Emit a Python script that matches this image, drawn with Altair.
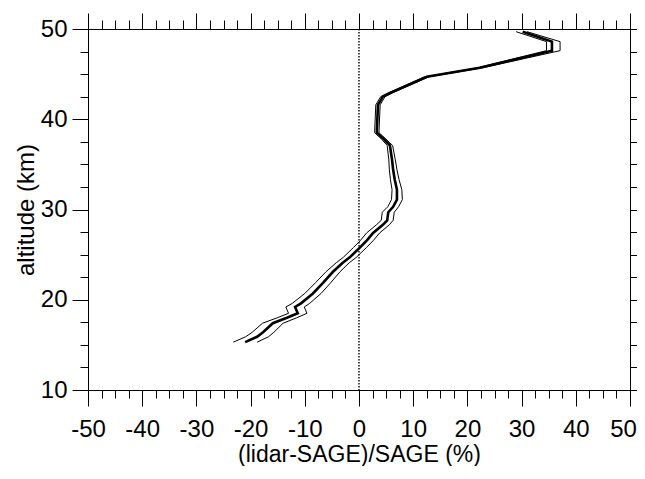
import altair as alt
import pandas as pd

# altitude (km) of profile vertices
alt_km = [49.7, 48.6, 47.6, 45.7, 44.7, 42.9, 42.5, 41.6, 38.8, 38.5, 37.9, 37.1,
          35.5, 34.4, 33.3, 32.2, 31.1, 30.3, 29.7, 28.8, 28.3, 27.4, 26.6, 25.8,
          24.7, 24.1, 23.1, 21.9, 20.7, 19.6, 19.2, 18.5, 18.0, 17.4, 16.4, 15.9, 15.3]
# mean relative difference (%)
mean_diff = [30.2, 35.6, 35.6, 22.3, 12.5, 5.7, 4.4, 3.5, 3.3, 3.3, 4.4, 5.7,
             6.1, 6.3, 6.6, 7.0, 7.0, 6.3, 5.4, 5.2, 4.4, 2.6, 1.5, 0.2,
             -1.7, -3.0, -4.8, -6.6, -8.5, -10.7, -11.8, -11.3, -13.3, -15.9, -17.7, -18.8, -21.0]
# lower envelope (%)
low_diff = [29.0, 34.6, 34.6, 21.8, 12.1, 5.3, 4.0, 3.1, 2.9, 2.9, 4.0, 5.2,
            5.5, 5.6, 5.8, 6.1, 6.0, 5.3, 4.3, 4.1, 3.2, 1.4, 0.3, -1.0,
            -2.9, -4.2, -6.1, -8.0, -10.0, -12.3, -13.5, -13.0, -15.1, -17.8, -19.7, -20.9, -23.2]
# upper envelope (%)
high_diff = [31.0, 37.1, 37.1, 22.8, 12.9, 6.1, 4.8, 3.9, 3.7, 3.7, 4.8, 6.2,
             6.7, 7.0, 7.4, 7.9, 8.0, 7.3, 6.5, 6.3, 5.6, 3.8, 2.7, 1.4,
             -0.5, -1.8, -3.5, -5.2, -7.0, -9.1, -10.1, -9.6, -11.5, -14.0, -15.7, -16.7, -18.8]

x_major = [-50, -40, -30, -20, -10, 0, 10, 20, 30, 40, 50]
y_major = [10, 20, 30, 40, 50]
x_minor = [v * 2.5 for v in range(-20, 21) if v % 4 != 0]
y_minor = [10 + v * 2.5 for v in range(0, 17) if v % 4 != 0]

rows = []
for name, vals in (("mean", mean_diff), ("low", low_diff), ("high", high_diff)):
    for i, (a, v) in enumerate(zip(alt_km, vals)):
        rows.append({"series": name, "alt": a, "diff": v, "i": i})
df = pd.DataFrame(rows)

W, H = 542, 361
xs = alt.Scale(domain=[-50, 50], nice=False, zero=False)
ys = alt.Scale(domain=[10, 50], nice=False, zero=False)

ax_bottom = alt.Axis(orient="bottom", values=x_major, tickSize=16, labelPadding=11,
                     labelFlush=False, labelOverlap=False, grid=False,
                     labelExpr="toString(datum.value)",
                     labelOffset={"condition": {"test": "datum.value >= 50", "value": -7},
                                  "value": 0},
                     title="(lidar-SAGE)/SAGE (%)", titleX=W / 2, titleY=64,
                     titleBaseline="middle", titleFontSize=23)
ax_left = alt.Axis(orient="left", values=y_major, tickSize=16, labelPadding=5,
                   labelFlush=False, labelOverlap=False, grid=False,
                   title="altitude (km)", titleX=-62, titleY=H / 2, titleAngle=270,
                   titleBaseline="middle")
ax_bottom_minor = alt.Axis(orient="bottom", values=x_minor, tickSize=8, labels=False,
                           domain=False, grid=False, title=None)
ax_left_minor = alt.Axis(orient="left", values=y_minor, tickSize=8, labels=False,
                         domain=False, grid=False, title=None)
ax_top = alt.Axis(orient="top", values=x_major, tickSize=16, labels=False,
                  grid=False, title=None)
ax_right = alt.Axis(orient="right", values=y_major, tickSize=15, labels=False,
                    grid=False, title=None)
ax_top_minor = alt.Axis(orient="top", values=x_minor, tickSize=9, labels=False,
                        domain=False, grid=False, title=None)
ax_right_minor = alt.Axis(orient="right", values=y_minor, tickSize=11, labels=False,
                          domain=False, grid=False, title=None)

base = alt.Chart(df)

thin = base.transform_filter(alt.datum.series != "mean").mark_line(
    color="black", strokeWidth=1).encode(
    x=alt.X("diff:Q", scale=xs, axis=ax_bottom),
    y=alt.Y("alt:Q", scale=ys, axis=ax_left),
    detail="series:N",
    order="i:Q",
)
thick = base.transform_filter(alt.datum.series == "mean").mark_line(
    color="black", strokeWidth=2.6).encode(
    x=alt.X("diff:Q", scale=xs, axis=ax_bottom_minor),
    y=alt.Y("alt:Q", scale=ys, axis=ax_left_minor),
    order="i:Q",
)
ghost1 = base.mark_point(opacity=0).encode(
    x=alt.X("diff:Q", scale=xs, axis=ax_top),
    y=alt.Y("alt:Q", scale=ys, axis=ax_right),
)
ghost2 = base.mark_point(opacity=0).encode(
    x=alt.X("diff:Q", scale=xs, axis=ax_top_minor),
    y=alt.Y("alt:Q", scale=ys, axis=ax_right_minor),
)
zero = alt.Chart(pd.DataFrame({"z": [0]})).mark_rule(
    color="black", strokeWidth=1.4, strokeDash=[1.5, 1.5]).encode(
    x=alt.X("z:Q", scale=xs, axis=None),
)

chart = alt.layer(zero, thin, thick, ghost1, ghost2).resolve_axis(
    x="independent", y="independent"
).properties(
    width=W, height=H,
    autosize=alt.AutoSizeParams(type="none"),
    padding={"left": 80, "top": 21, "right": 7, "bottom": 76},
).configure_axis(
    domainColor="black", tickColor="black", labelColor="black", titleColor="black",
    domainWidth=1, tickWidth=1,
    labelFont="Liberation Sans", titleFont="Liberation Sans",
    labelFontSize=24, titleFontSize=24, titleFontWeight="normal",
).configure_view(stroke=None)

chart.save("out.html", embed_options={"renderer": "svg", "actions": False})
